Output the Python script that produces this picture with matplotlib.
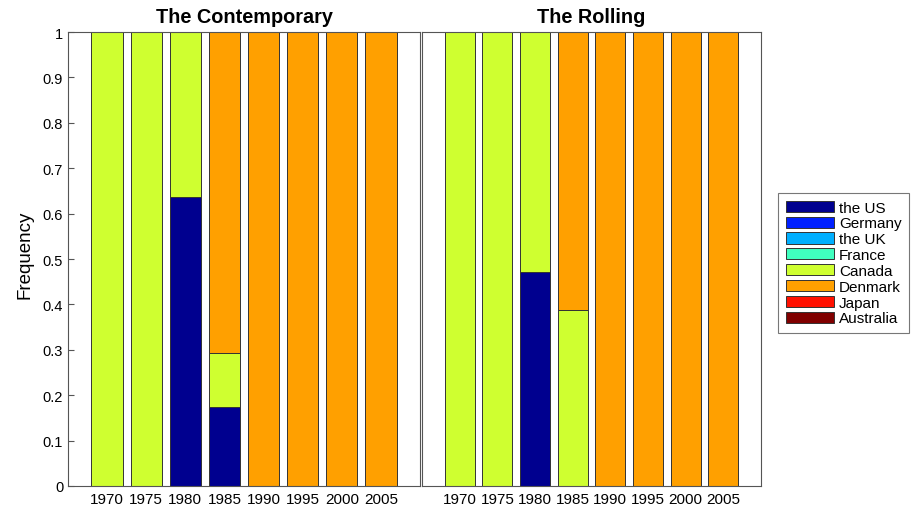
import matplotlib
matplotlib.use("Agg")
import matplotlib.pyplot as plt
import numpy as np

years = ["1970", "1975", "1980", "1985", "1990", "1995", "2000", "2005"]
countries = ["the US", "Germany", "the UK", "France", "Canada", "Denmark", "Japan", "Australia"]
colors = ["#00008F", "#0020FF", "#00AFFF", "#40FFBF", "#CFFF30", "#FFA000", "#FF1000", "#800000"]

# fractions per country for each year
contemporary = {
    "the US":    [0, 0, 0.636, 0.175, 0, 0, 0, 0],
    "Germany":   [0, 0, 0, 0, 0, 0, 0, 0],
    "the UK":    [0, 0, 0, 0, 0, 0, 0, 0],
    "France":    [0, 0, 0, 0, 0, 0, 0, 0],
    "Canada":    [1, 1, 0.364, 0.119, 0, 0, 0, 0],
    "Denmark":   [0, 0, 0, 0.706, 1, 1, 1, 1],
    "Japan":     [0, 0, 0, 0, 0, 0, 0, 0],
    "Australia": [0, 0, 0, 0, 0, 0, 0, 0],
}
rolling = {
    "the US":    [0, 0, 0.472, 0, 0, 0, 0, 0],
    "Germany":   [0, 0, 0, 0, 0, 0, 0, 0],
    "the UK":    [0, 0, 0, 0, 0, 0, 0, 0],
    "France":    [0, 0, 0, 0, 0, 0, 0, 0],
    "Canada":    [1, 1, 0.528, 0.387, 0, 0, 0, 0],
    "Denmark":   [0, 0, 0, 0.613, 1, 1, 1, 1],
    "Japan":     [0, 0, 0, 0, 0, 0, 0, 0],
    "Australia": [0, 0, 0, 0, 0, 0, 0, 0],
}

plt.rcParams['font.family'] = ['Liberation Sans', 'DejaVu Sans']
fig = plt.figure(figsize=(9.14, 5.10), dpi=100)
W, H = 914, 510
ax1 = fig.add_axes([68 / W, 1 - 487 / H, 352 / W, 454 / H])
ax2 = fig.add_axes([422 / W, 1 - 487 / H, 339 / W, 454 / H])

x = np.arange(1, len(years) + 1)
handles = []
for ax, data, title in [(ax1, contemporary, "The Contemporary"), (ax2, rolling, "The Rolling")]:
    bottom = np.zeros(len(years))
    for c, col in zip(countries, colors):
        vals = np.array(data[c], dtype=float)
        b = ax.bar(x, vals, 0.8, bottom=bottom, color=col, edgecolor="#333333",
                   linewidth=0.7, label=c)
        bottom += vals
        if ax is ax1:
            handles.append(b)
    ax.set_xlim(0, 9)
    ax.set_ylim(0, 1)
    ax.set_xticks(x)
    ax.set_xticklabels(years, fontsize=11)
    ax.set_title(title, fontsize=14.3, fontweight="bold", pad=7)
    for s in ax.spines.values():
        s.set_color("#555555")
        s.set_linewidth(0.8)
    ax.tick_params(axis="x", length=0, pad=4)
    ax.tick_params(axis="y", direction="in", length=4, color="#555555")

ax1.set_yticks(np.arange(0, 1.01, 0.1))
ax1.set_yticklabels(["0", "0.1", "0.2", "0.3", "0.4", "0.5", "0.6", "0.7", "0.8", "0.9", "1"], fontsize=10.5)
ax1.set_ylabel("Frequency", fontsize=13.5)
ax1.yaxis.set_label_coords(-0.099, 0.511)
ax2.set_yticks([])

leg = fig.legend(handles=handles, labels=countries, loc="upper left",
                 bbox_to_anchor=(778 / W, 1 - 194 / H), fontsize=11,
                 frameon=True, fancybox=False, edgecolor="#555555",
                 handlelength=3.15, handleheight=0.75, handletextpad=0.33,
                 labelspacing=0.12, borderpad=0.5, borderaxespad=0)
leg.get_frame().set_linewidth(0.8)

fig.savefig("out.png", dpi=100)
